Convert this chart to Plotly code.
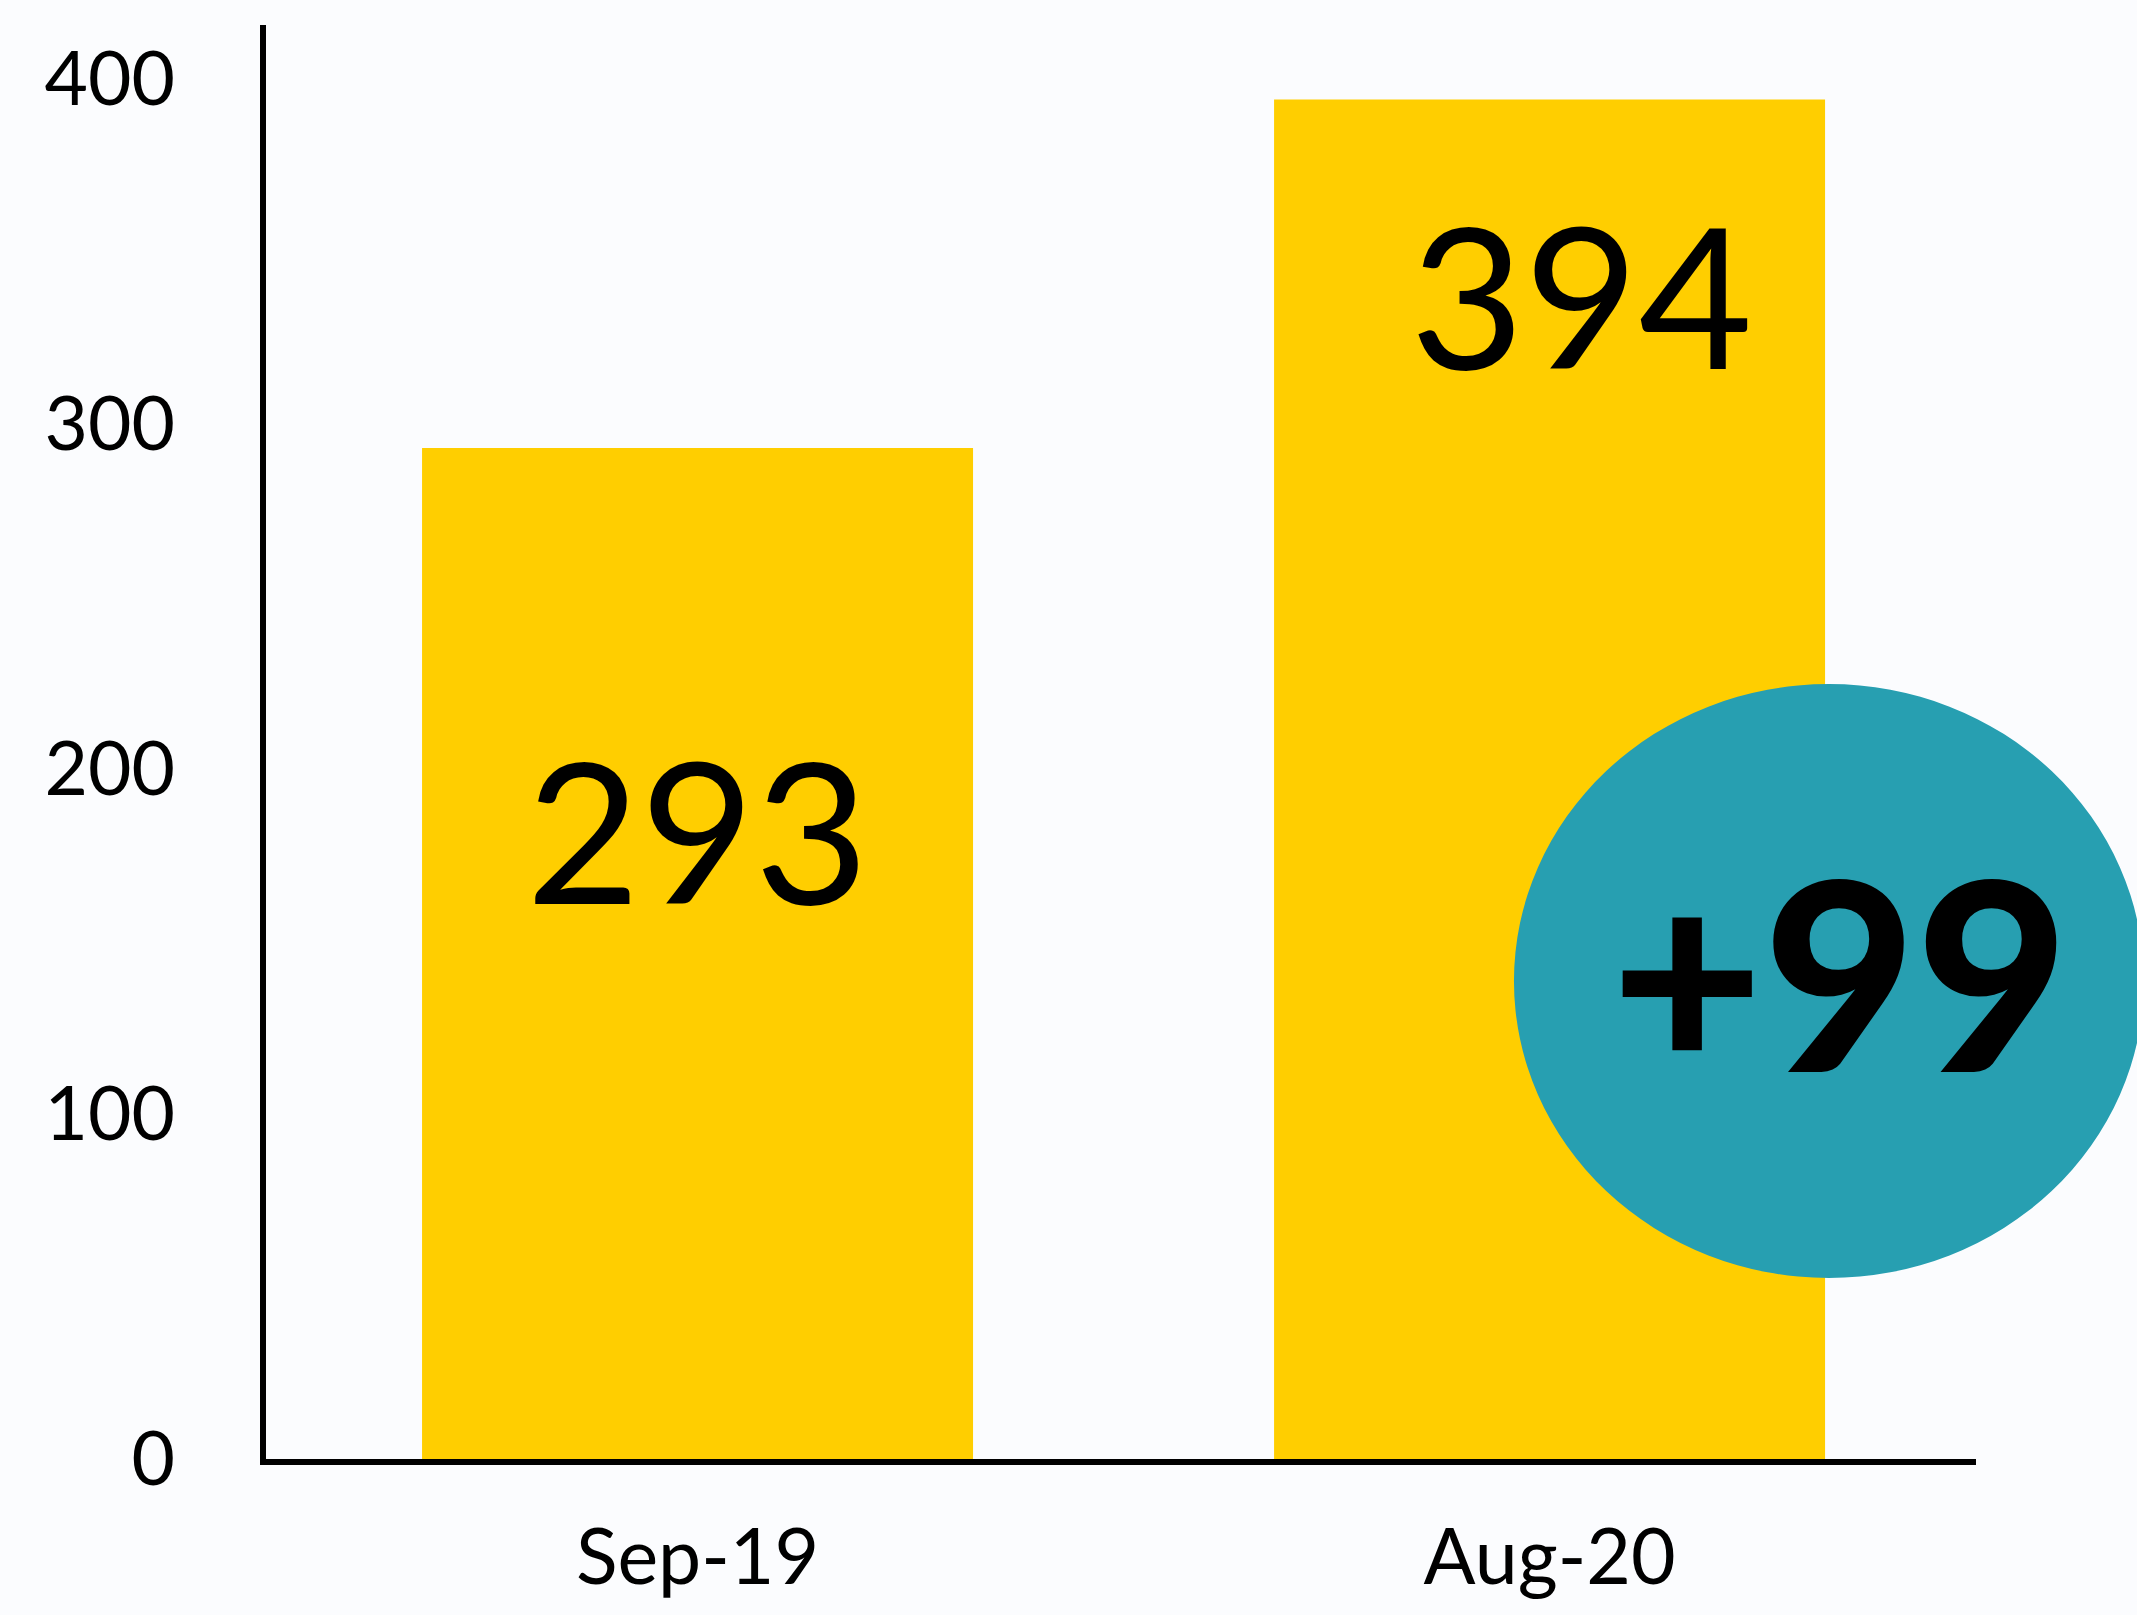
import plotly.graph_objects as go

categories = ["Sep-19", "Aug-20"]
values = [293, 394]
value_labels = ["293", "394"]
label_y = [182.9, 337.8]
label_xshift = [0, 32]
change_label = "+99"
y_tickvals = [0, 100, 200, 300, 400]
y_ticktext = ["0", "100", "200", "300", "400"]

YELLOW = "#FFCE00"
TEAL = "#279FB1"
BG = "#FBFCFE"
FONT = "Lato"

fig = go.Figure()
fig.add_trace(go.Bar(
    x=categories, y=values, marker=dict(color=YELLOW, line=dict(width=0)),
    width=0.6467, hoverinfo="skip", showlegend=False,
))

for cat, lab, ly, xs in zip(categories, value_labels, label_y, label_xshift):
    fig.add_annotation(x=cat, y=ly, xref="x", yref="y", text=lab, showarrow=False,
                       xanchor="center", yanchor="middle", xshift=xs,
                       font=dict(family=FONT, size=197, color="#000000"))

fig.add_shape(type="circle", xref="paper", yref="paper",
              x0=0.7298, x1=1.0982, y0=0.1262, y1=0.5404,
              fillcolor=TEAL, line=dict(width=0), layer="above")
fig.add_annotation(x=0.9205, y=0.341, xref="paper", yref="paper", text=change_label,
                   showarrow=False, xanchor="center", yanchor="middle",
                   font=dict(family=FONT, size=263, color="#000000", weight=900))

fig.update_layout(
    width=2137, height=1615,
    margin=dict(l=266, r=161, t=25, b=156),
    paper_bgcolor=BG, plot_bgcolor=BG,
    font=dict(family=FONT, color="#000000"),
    xaxis=dict(range=[-0.5065, 1.5005], showgrid=False, zeroline=False, automargin=False,
               showline=True, linecolor="#000000", linewidth=6,
               tickfont=dict(family=FONT, size=77, color="#000000"),
               ticks="", ticklabelstandoff=27),
    yaxis=dict(range=[0, 415.6], showgrid=False, zeroline=False, automargin=False,
               showline=True, linecolor="#000000", linewidth=6,
               tickvals=y_tickvals, ticktext=y_ticktext,
               tickfont=dict(family=FONT, size=75, color="#000000"),
               ticks="", ticklabelstandoff=70),
)

fig.write_html("out.html", config={"displayModeBar": False},
               post_script="document.body.style.margin='0px';document.body.style.overflow='hidden';")
